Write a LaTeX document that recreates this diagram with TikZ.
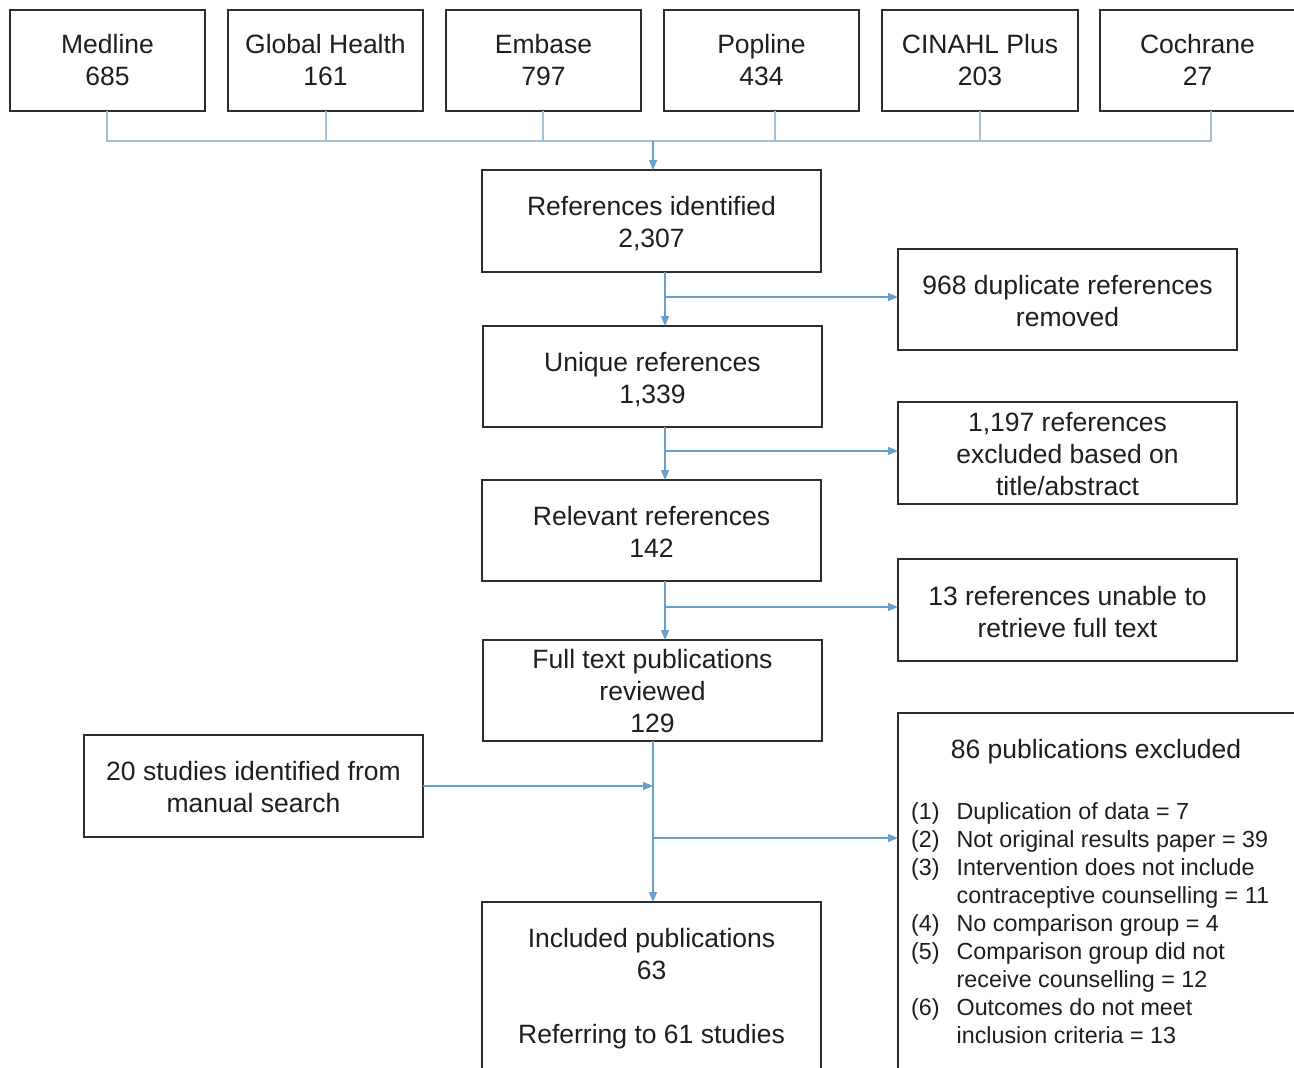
\documentclass[tikz,border=0pt]{standalone}
\usepackage{fontspec}
\setmainfont{Liberation Sans}
\usetikzlibrary{arrows.meta,calc}
\definecolor{boxline}{RGB}{45,45,45}
\definecolor{conn}{RGB}{105,158,205}
\definecolor{connlight}{RGB}{165,193,215}
\definecolor{ink}{RGB}{30,30,30}
\newcommand{\mylines}[1]{\begin{tabular}{@{}c@{}}#1\end{tabular}}
\begin{document}
\begin{tikzpicture}[x=1pt,y=-1pt,
  box/.style={draw=boxline, line width=1.8pt, inner sep=0pt, outer sep=0pt},
  txt/.style={inner sep=0pt, anchor=north, text=ink, font=\fontsize{26.5}{32}\selectfont},
  lst/.style={inner sep=0pt, anchor=north west, text=ink, font=\fontsize{23.3}{28}\selectfont},
  arr/.style={draw=conn, line width=1.2pt, -{Triangle[length=10pt,width=8pt]}},
  ln/.style={draw=connlight, line width=1.3pt}]
\useasboundingbox (0,0) rectangle (1294,1068);
\fill[white] (0,0) rectangle (1294,1068);
\clip (0,0) rectangle (1294,1068);

% top database boxes
\node[box, minimum width=195pt, minimum height=101pt] (med) at (107.5,60.5) {};
\node[box, minimum width=195pt, minimum height=101pt] (gh)  at (325.5,60.5) {};
\node[box, minimum width=195pt, minimum height=101pt] (emb) at (543.5,60.5) {};
\node[box, minimum width=195pt, minimum height=101pt] (pop) at (761.5,60.5) {};
\node[box, minimum width=196pt, minimum height=101pt] (cin) at (980,60.5) {};
\node[box, minimum width=200pt, minimum height=101pt] (coc) at (1200,60.5) {};
\node[txt] (tmed) at (107.5,30.6) {\mylines{Medline\\685}};
\node[txt] (tgh)  at (325.5,30.6) {\mylines{Global Health\\161}};
\node[txt] (temb) at (543.5,30.6) {\mylines{Embase\\797}};
\node[txt] (tpop) at (761.5,30.6) {\mylines{Popline\\434}};
\node[txt] (tcin) at (980,30.6) {\mylines{CINAHL Plus\\203}};
\node[txt] (tcoc) at (1197.5,30.6) {\mylines{Cochrane\\27}};

% main column
\node[box, minimum width=339pt, minimum height=102pt] (ri)  at (651.5,221) {};
\node[box, minimum width=339pt, minimum height=101pt] (ur)  at (652.5,376.5) {};
\node[box, minimum width=339pt, minimum height=101pt] (rel) at (651.5,530.5) {};
\node[box, minimum width=339pt, minimum height=101pt] (ft)  at (652.5,690.5) {};
\node[box, minimum width=339pt, minimum height=200pt] (inc) at (651.5,1002) {};
\node[txt] (tri)  at (651.5,192.6) {\mylines{References identified\\2,307}};
\node[txt] (tur)  at (652.5,348.6) {\mylines{Unique references\\1,339}};
\node[txt] (trel) at (651.5,502.6) {\mylines{Relevant references\\142}};
\node[txt] (tft)  at (652.5,645.6) {\mylines{Full text publications\\reviewed\\129}};
\node[txt] (tinc) at (651.5,924.6) {\mylines{Included publications\\63\\ \\Referring to 61 studies}};

% side boxes
\node[box, minimum width=339pt, minimum height=101pt] (dup)  at (1067.5,299.5) {};
\node[box, minimum width=339pt, minimum height=102pt] (exc)  at (1067.5,453) {};
\node[box, minimum width=339pt, minimum height=102pt] (una)  at (1067.5,610) {};
\node[box, minimum width=339pt, minimum height=102pt] (man)  at (253.5,786) {};
\node[box, minimum width=420pt, minimum height=400pt] (pex)  at (1108,913) {};
\node[txt] (tdup) at (1067.5,271.6) {\mylines{968 duplicate references\\removed}};
\node[txt] (texc) at (1067.5,408.6) {\mylines{1,197 references\\excluded based on\\title/abstract}};
\node[txt] (tuna) at (1067.5,582.6) {\mylines{13 references unable to\\retrieve full text}};
\node[txt] (tman) at (253.5,757.6) {\mylines{20 studies identified from\\manual search}};
\node[txt] (tpex) at (1096,735.6) {\mylines{86 publications excluded}};
\node[lst] (lpex) at (911,799.4) {\begin{tabular}{@{}l@{\hspace{17pt}}l@{}}
(1) & Duplication of data = 7\\
(2) & Not original results paper = 39\\
(3) & Intervention does not include\\
    & contraceptive counselling = 11\\
(4) & No comparison group = 4\\
(5) & Comparison group did not\\
    & receive counselling = 12\\
(6) & Outcomes do not meet\\
    & inclusion criteria = 13
\end{tabular}};

% junction coordinates
\coordinate (top) at (653,141);
\coordinate (ja) at (665,297);
\coordinate (jb) at (665,451);
\coordinate (jc) at (665,607);
\coordinate (jd) at (653,786);
\coordinate (je) at (653,838);
\coordinate (xmed) at (107,0);
\coordinate (xgh) at (326,0);
\coordinate (xemb) at (543,0);
\coordinate (xpop) at (775,0);
\coordinate (xcin) at (980,0);
\coordinate (xcoc) at (1211,0);

% top connectors
\draw[ln] (med.south -| xmed) |- (top);
\draw[ln] (gh.south -| xgh) -- (top -| xgh);
\draw[ln] (emb.south -| xemb) -- (top -| xemb);
\draw[ln] (pop.south -| xpop) -- (top -| xpop);
\draw[ln] (cin.south -| xcin) -- (top -| xcin);
\draw[ln] (coc.south -| xcoc) |- (top);
\draw[arr] (top) -- (ri.north -| top);

% main flow
\draw[arr] (ri.south -| ja) -- (ur.north -| ja);
\draw[arr] (ja) -- (dup.west |- ja);
\draw[arr] (ur.south -| jb) -- (rel.north -| jb);
\draw[arr] (jb) -- (exc.west |- jb);
\draw[arr] (rel.south -| jc) -- (ft.north -| jc);
\draw[arr] (jc) -- (una.west |- jc);
\draw[arr] (ft.south -| jd) -- (inc.north -| jd);
\draw[arr] (man.east) -- (jd);
\draw[arr] (je) -- (pex.west |- je);
\end{tikzpicture}
\end{document}
